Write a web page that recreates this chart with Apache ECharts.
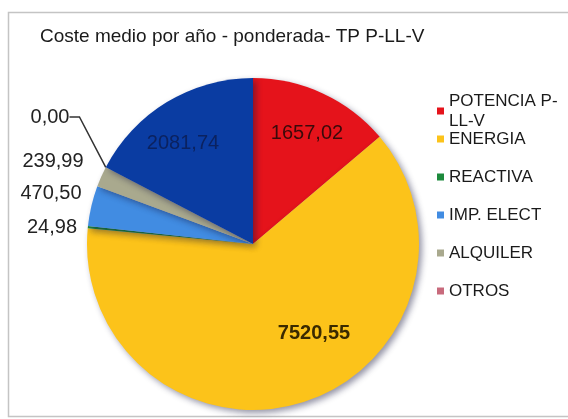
<!DOCTYPE html>
<html>
<head>
<meta charset="utf-8">
<script src="https://cdn.jsdelivr.net/npm/echarts@6/dist/echarts.min.js"></script>
<style>
  html, body { margin: 0; padding: 0; background: #fff; }
  #main { width: 568px; height: 419px; }
</style>
</head>
<body>
<div id="main"></div>
<script>
// datos del grafico (orden horario desde las 12)
const names = ['POTENCIA P-LL-V', 'ENERGIA', 'REACTIVA', 'IMP. ELECT', 'ALQUILER', 'OTROS', 'IVA'];
const values = [1657.02, 7520.55, 24.98, 470.50, 239.99, 0.00, 2081.74];
const colors = ['#e5131b', '#fcc31a', '#1d8a3c', '#418ce2', '#a9a98e', '#c86a7c', '#0a3ca2'];
const legendTop = ['POTENCIA P-LL-V', 'ENERGIA'];
const legendBottom = ['REACTIVA', 'IMP. ELECT', 'ALQUILER', 'OTROS'];

// posicion de cada etiqueta (centro en px)
const labelPos = [[307, 133], [314, 333], [52, 227], [51, 193], [53, 161], [50, 117], [183, 143]];
const insideIdx = [0, 1, 6];

const fmt = v => v.toFixed(2).replace('.', ',');

const data = values.map((v, i) => {
  const inside = insideIdx.indexOf(i) >= 0;
  return {
    name: names[i],
    value: v,
    itemStyle: { color: colors[i] },
    label: {
      show: true,
      fontSize: 20,
      fontWeight: i === 1 ? 'bold' : 'normal',
      color: i === 6 ? '#0b2260' : (i === 0 ? '#3a0a0a' : (i === 1 ? '#3a2a00' : '#222'))
    },
    labelLine: { show: i === 5, lineStyle: { color: '#333', width: 1.5 } }
  };
});

const chart = echarts.init(document.getElementById('main'), null, { renderer: 'canvas' });

const option = {
  animation: false,
  title: {
    text: 'Coste medio por año - ponderada- TP P-LL-V',
    left: 40,
    top: 27,
    padding: 0,
    textStyle: { fontFamily: 'Liberation Sans, Arial', fontSize: 19, fontWeight: 'normal', color: '#1a1a1a' }
  },
  graphic: [{
    type: 'rect',
    shape: { x: 8.5, y: 12.5, width: 580, height: 404 },
    style: { fill: 'none', stroke: '#c4c4c4', lineWidth: 1.5 },
    silent: true
  }],
  legend: [{
    data: legendTop,
    orient: 'vertical',
    left: 437,
    top: 91,
    padding: 0,
    itemGap: -2,
    itemWidth: 7,
    itemHeight: 7,
    icon: 'rect',
    formatter: n => n === 'POTENCIA P-LL-V' ? 'POTENCIA P-\nLL-V' : n,
    textStyle: { fontFamily: 'Liberation Sans, Arial', fontSize: 17, lineHeight: 20, color: '#1a1a1a' }
  }, {
    data: legendBottom,
    orient: 'vertical',
    left: 437,
    top: 167,
    padding: 0,
    itemGap: 18,
    itemWidth: 7,
    itemHeight: 7,
    icon: 'rect',
    textStyle: { fontFamily: 'Liberation Sans, Arial', fontSize: 17, lineHeight: 20, color: '#1a1a1a' }
  }],
  series: [{
    type: 'pie',
    center: [253, 244],
    radius: 166,
    startAngle: 90,
    clockwise: true,
    minAngle: 0,
    avoidLabelOverlap: false,
    stillShowZeroSum: true,
    itemStyle: {
      shadowColor: 'rgba(20,20,60,0.45)',
      shadowBlur: 6,
      shadowOffsetX: 3,
      shadowOffsetY: 3
    },
    label: {
      fontFamily: 'Liberation Sans, Arial',
      formatter: p => fmt(p.value)
    },
    labelLine: { length: 10, length2: 10 },
    labelLayout: function (params) {
      const p = labelPos[params.dataIndex];
      return { x: p[0], y: p[1], align: 'center', verticalAlign: 'middle' };
    },
    emphasis: { disabled: true },
    data: data
  }]
};

chart.setOption(option);
</script>
</body>
</html>
